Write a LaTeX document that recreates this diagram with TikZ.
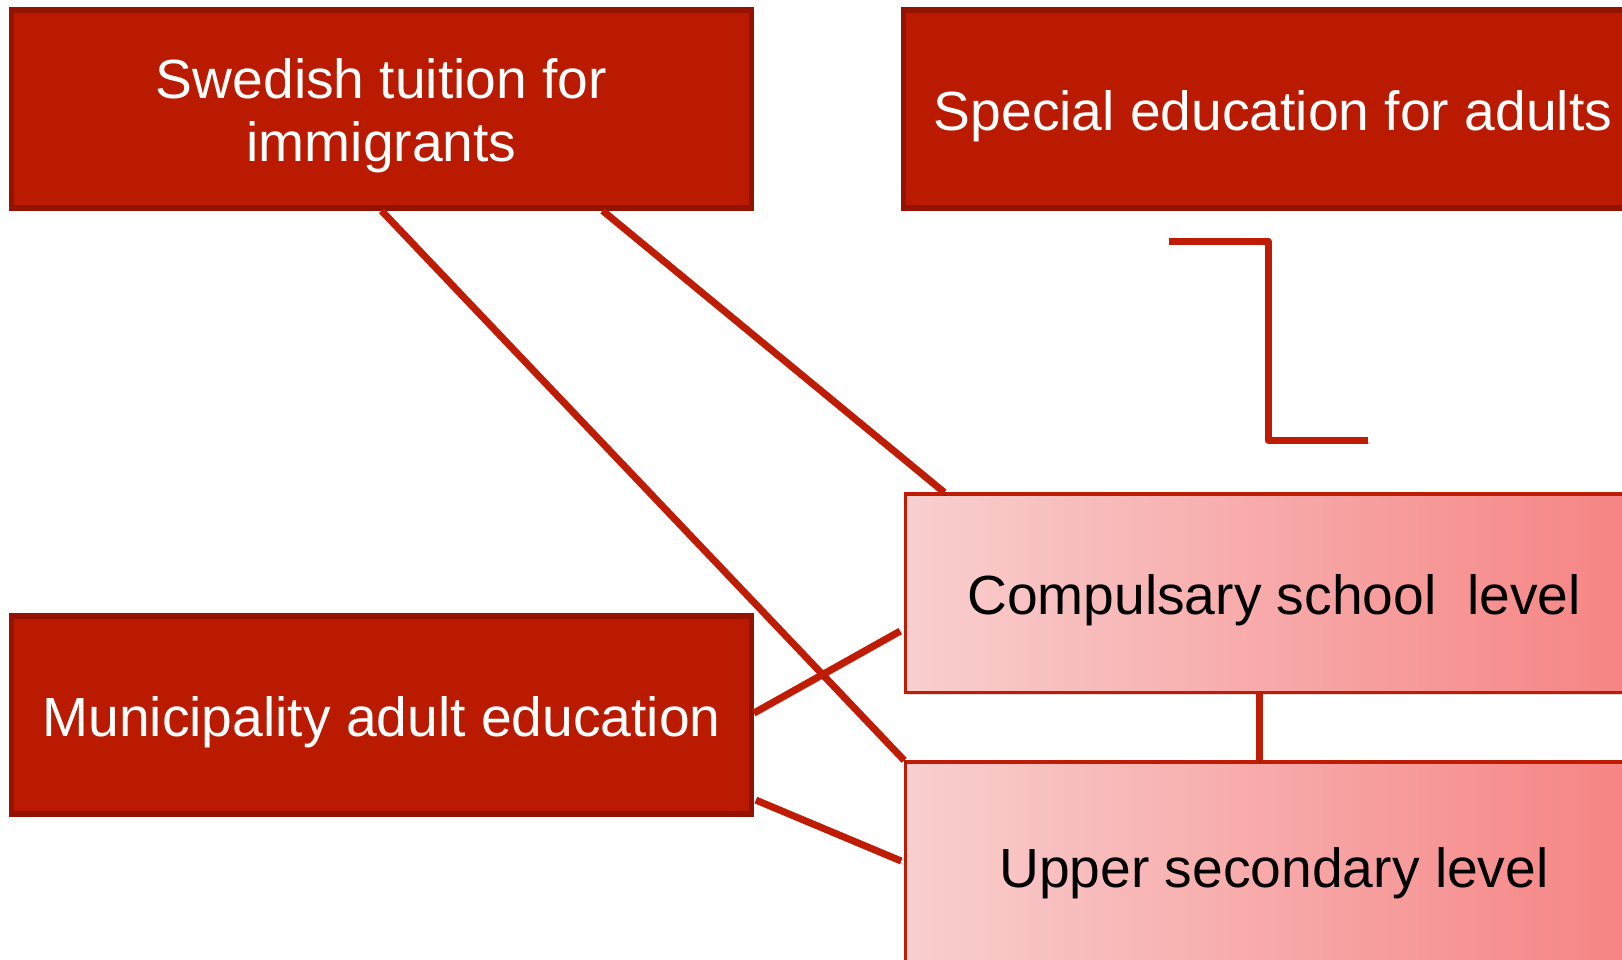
\documentclass[tikz,border=0pt]{standalone}
\usepackage{fontspec}
\setmainfont{Liberation Sans}
\usepackage{tikz}
\usetikzlibrary{shadows}
\usetikzlibrary{positioning}
\usetikzlibrary{calc}

\definecolor{boxred}{RGB}{186,26,0}
\definecolor{edgered}{RGB}{148,18,0}
\definecolor{linered}{RGB}{190,28,4}
\definecolor{pinkL}{RGB}{249,207,207}
\definecolor{pinkM}{RGB}{248,195,195}
\definecolor{pinkR}{RGB}{246,130,130}

% text sits a little low in its box
\newcommand{\boxtext}[1]{\raisebox{-2.4pt}[\height][\depth]{\begin{tabular}{@{}c@{}}#1\end{tabular}}}

\tikzset{
  darkbox/.style={draw=edgered, line width=1.5pt, fill=boxred, text=white,
    minimum width=7.39cm, minimum height=1.98cm, align=center,
    font=\fontsize{15.7}{18}\selectfont,
    drop shadow={shadow xshift=0.4pt, shadow yshift=-0.8pt, opacity=0.3}},
  levelbox/.style={draw=linered, line width=0.9pt, left color=pinkL, middle color=pinkM, right color=pinkR,
    text=black, minimum width=7.36cm, align=center,
    font=\fontsize{15.7}{18}\selectfont,
    drop shadow={shadow xshift=0.4pt, shadow yshift=-0.8pt, opacity=0.3}},
  link/.style={draw=linered, line width=2pt, line join=round,
    preaction={draw=black, opacity=0.18, transform canvas={xshift=0.5pt, yshift=-0.9pt}}}
}

\begin{document}
\begin{tikzpicture}[x=0.01cm, y=-0.01cm]

  \useasboundingbox (0,0) rectangle (1622,959);
  \clip (0,0) rectangle (1622,959);

  %dark boxes
  \foreach \x/\y/\name/\txt in {381.5/109/swe/{Swedish tuition for\\immigrants},
                                1273/109/spe/{Special education for adults},
                                381.5/715/mun/{Municipality adult education}}{
      \node[darkbox] (\name) at (\x,\y) {\boxtext{\txt}};
  }

  %levels
  \node[levelbox, minimum height=1.98cm] (cmp) at (1274,593) {\boxtext{Compulsary school\ \ level}};
  \node[levelbox, minimum height=2.08cm] (upp) at (1274,866) {\boxtext{Upper secondary level}};

  %links
  \draw[link] (swe.south) -- (upp.north west);
  \draw[link] ([xshift=2.21cm]swe.south) -- ([xshift=0.4cm]cmp.north west);
  \draw[link] ([yshift=0.02cm]mun.east) -- ([xshift=-0.04cm,yshift=-0.38cm]cmp.west);
  \draw[link] ([xshift=0.02cm,yshift=-0.85cm]mun.east) -- ([xshift=-0.03cm,yshift=0.05cm]upp.west);
  \draw[link] ([xshift=-0.15cm]cmp.south) -- ([xshift=-0.15cm]upp.north);

  %bracket
  \coordinate (b1) at (1169,241);
  \coordinate (b2) at (1368,440);
  \draw[link] (b1) -- (b1 -| 1268,0) -- (b2 -| 1268,0) -- (b2);

\end{tikzpicture}
\end{document}
